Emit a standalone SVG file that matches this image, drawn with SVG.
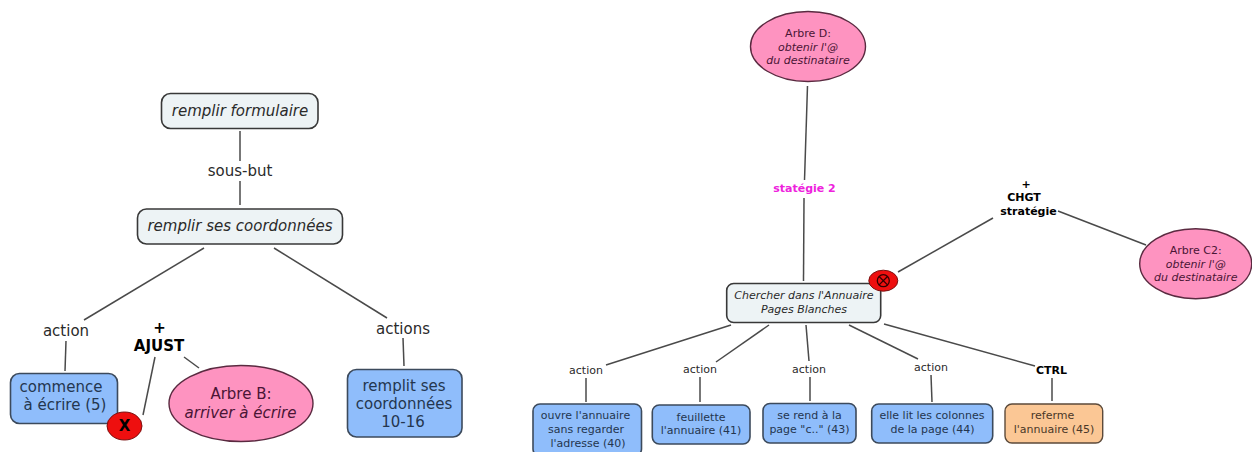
<svg xmlns="http://www.w3.org/2000/svg" width="1252" height="452" viewBox="0 0 1252 452">
<style>
text{font-family:"DejaVu Sans","Liberation Sans",sans-serif;text-anchor:middle;fill:#2a2a2a}
.c line{stroke:#4a4a4a;stroke-width:1.5}
.g{fill:#edf3f5;stroke:#383838;stroke-width:1.6}
.b{fill:#8fbdfb;stroke:#3c4a5c;stroke-width:1.6}
.o{fill:#fbc795;stroke:#5c4a3a;stroke-width:1.4}
.p{fill:#fe93c0;stroke:#5a2a40;stroke-width:1.4}
.r{fill:#ee0f0f;stroke:#7a1010;stroke-width:1}
.i{font-style:italic}
.bd{font-weight:bold;fill:#000}
.l{font-size:15px}.m{font-size:11px}.t{font-size:15px}
.pt{fill:#4a1535}
.bt{fill:#24364f}
.ot{fill:#4a3828}
</style>
<rect width="1252" height="452" fill="#fff"/>
<g id="connectors" class="c">
<line x1="240" y1="131" x2="240" y2="161"/>
<line x1="240" y1="181" x2="240" y2="205"/>
<line x1="204" y1="248" x2="84" y2="320"/>
<line x1="274" y1="248" x2="387" y2="318"/>
<line x1="66" y1="341" x2="65" y2="371"/>
<line x1="403" y1="338" x2="404" y2="366"/>
<line x1="155" y1="357" x2="143" y2="415"/>
<line x1="184" y1="357" x2="199" y2="368"/>
<line x1="807.500" y1="86" x2="804.500" y2="180"/>
<line x1="804" y1="198" x2="803.500" y2="281"/>
<line x1="993" y1="218" x2="898" y2="272"/>
<line x1="1058" y1="211" x2="1146" y2="245"/>
<line x1="731" y1="325" x2="606" y2="365"/>
<line x1="586" y1="378" x2="586" y2="402"/>
<line x1="769" y1="325" x2="716" y2="362"/>
<line x1="700" y1="377" x2="700" y2="402"/>
<line x1="806" y1="325" x2="809" y2="361"/>
<line x1="810" y1="377" x2="810" y2="401"/>
<line x1="849" y1="325" x2="918" y2="359"/>
<line x1="931" y1="375" x2="932" y2="402"/>
<line x1="884" y1="324" x2="1035" y2="366"/>
<line x1="1052" y1="378" x2="1052" y2="401"/>
</g>
<g id="n-formulaire"><rect class="g" x="161.500" y="93.500" width="156.500" height="35" rx="9"/><text class="l i" x="240" y="116">remplir formulaire</text></g>
<g id="n-sousbut"><text class="l" x="240" y="176">sous-but</text></g>
<g id="n-coord"><rect class="g" x="137.500" y="209" width="205" height="35" rx="9"/><text class="l i" x="240" y="231">remplir ses coordonnées</text></g>
<g id="n-action1"><text class="l" x="66" y="336">action</text></g>
<g id="n-actions"><text class="l" x="403" y="334">actions</text></g>
<g id="n-ajust"><text class="l bd" x="159.500" y="333">+</text><text class="l bd" x="159" y="351">AJUST</text></g>
<g id="n-commence"><rect class="b" x="10.500" y="373.500" width="107" height="50" rx="9"/><text class="t bt" x="61" y="392">commence</text><text class="t bt" x="65" y="410">à écrire (5)</text></g>
<g id="n-x"><ellipse class="r" cx="124.500" cy="426" rx="17.500" ry="14"/><text class="l bd" x="124.500" y="431">X</text></g>
<g id="n-arbreb"><ellipse class="p" cx="241" cy="403.500" rx="72" ry="38"/><text class="l pt" x="241" y="399">Arbre B:</text><text class="l i pt" x="240.500" y="418">arriver à écrire</text></g>
<g id="n-remplit"><rect class="b" x="347.500" y="369.500" width="114.500" height="67.500" rx="9"/><text class="t bt" x="404" y="391">remplit ses</text><text class="t bt" x="404" y="409">coordonnées</text><text class="t bt" x="403" y="427">10-16</text></g>
<g id="n-arbred"><ellipse class="p" cx="808" cy="46.500" rx="57.500" ry="35"/><text class="m pt" x="808" y="37">Arbre D:</text><text class="m i pt" x="808" y="50.500">obtenir l'@</text><text class="m i pt" x="808" y="64">du destinataire</text></g>
<g id="n-strategie2"><text class="m bd" style="fill:#ee22dd" x="804.500" y="192">statégie 2</text></g>
<g id="n-chgt"><text class="m bd" x="1026" y="188">+</text><text class="m bd" x="1024" y="201">CHGT</text><text class="m bd" x="1028.500" y="215">stratégie</text></g>
<g id="n-arbrec2"><ellipse class="p" cx="1195.700" cy="263.700" rx="56" ry="35"/><text class="m pt" x="1195.700" y="254">Arbre C2:</text><text class="m i pt" x="1195.700" y="268">obtenir l'@</text><text class="m i pt" x="1195.700" y="281">du destinataire</text></g>
<g id="n-chercher"><rect class="g" x="726.700" y="283.500" width="154" height="39" rx="7"/><text class="m i" x="804" y="299">Chercher dans l'Annuaire</text><text class="m i" x="804" y="313">Pages Blanches</text></g>
<g id="n-otimes"><ellipse class="r" cx="883.300" cy="280.700" rx="14.500" ry="10.500"/><circle cx="883.300" cy="280.700" r="6" fill="none" stroke="#300" stroke-width="1.300"/><path d="M879.100 276.500l8.400 8.400M887.500 276.500l-8.400 8.400" stroke="#300" stroke-width="1.300"/></g>
<g id="n-a1"><text class="m" x="586" y="374">action</text></g>
<g id="n-a2"><text class="m" x="700" y="373">action</text></g>
<g id="n-a3"><text class="m" x="809" y="373">action</text></g>
<g id="n-a4"><text class="m" x="931" y="371">action</text></g>
<g id="n-ctrl"><text class="m bd" x="1051.500" y="373.500">CTRL</text></g>
<g id="n-ouvre"><rect class="b" x="533" y="404" width="108.500" height="52" rx="7"/><text class="m bt" x="585.500" y="419">ouvre l'annuaire</text><text class="m bt" x="586" y="433">sans regarder</text><text class="m bt" x="588" y="447">l'adresse (40)</text></g>
<g id="n-feuillette"><rect class="b" x="652.300" y="405" width="97.700" height="39" rx="7"/><text class="m bt" x="701" y="420.500">feuillette</text><text class="m bt" x="701" y="434">l'annuaire (41)</text></g>
<g id="n-serend"><rect class="b" x="763" y="403.500" width="93" height="39.500" rx="7"/><text class="m bt" x="809.500" y="419">se rend à la</text><text class="m bt" x="809.500" y="433">page "c.." (43)</text></g>
<g id="n-elle"><rect class="b" x="871.700" y="404" width="121" height="39" rx="7"/><text class="m bt" x="932" y="419">elle lit les colonnes</text><text class="m bt" x="932.500" y="433">de la page (44)</text></g>
<g id="n-referme"><rect class="o" x="1005" y="404" width="97.700" height="39" rx="7"/><text class="m ot" x="1052.500" y="419">referme</text><text class="m ot" x="1054" y="433">l'annuaire (45)</text></g>
</svg>
